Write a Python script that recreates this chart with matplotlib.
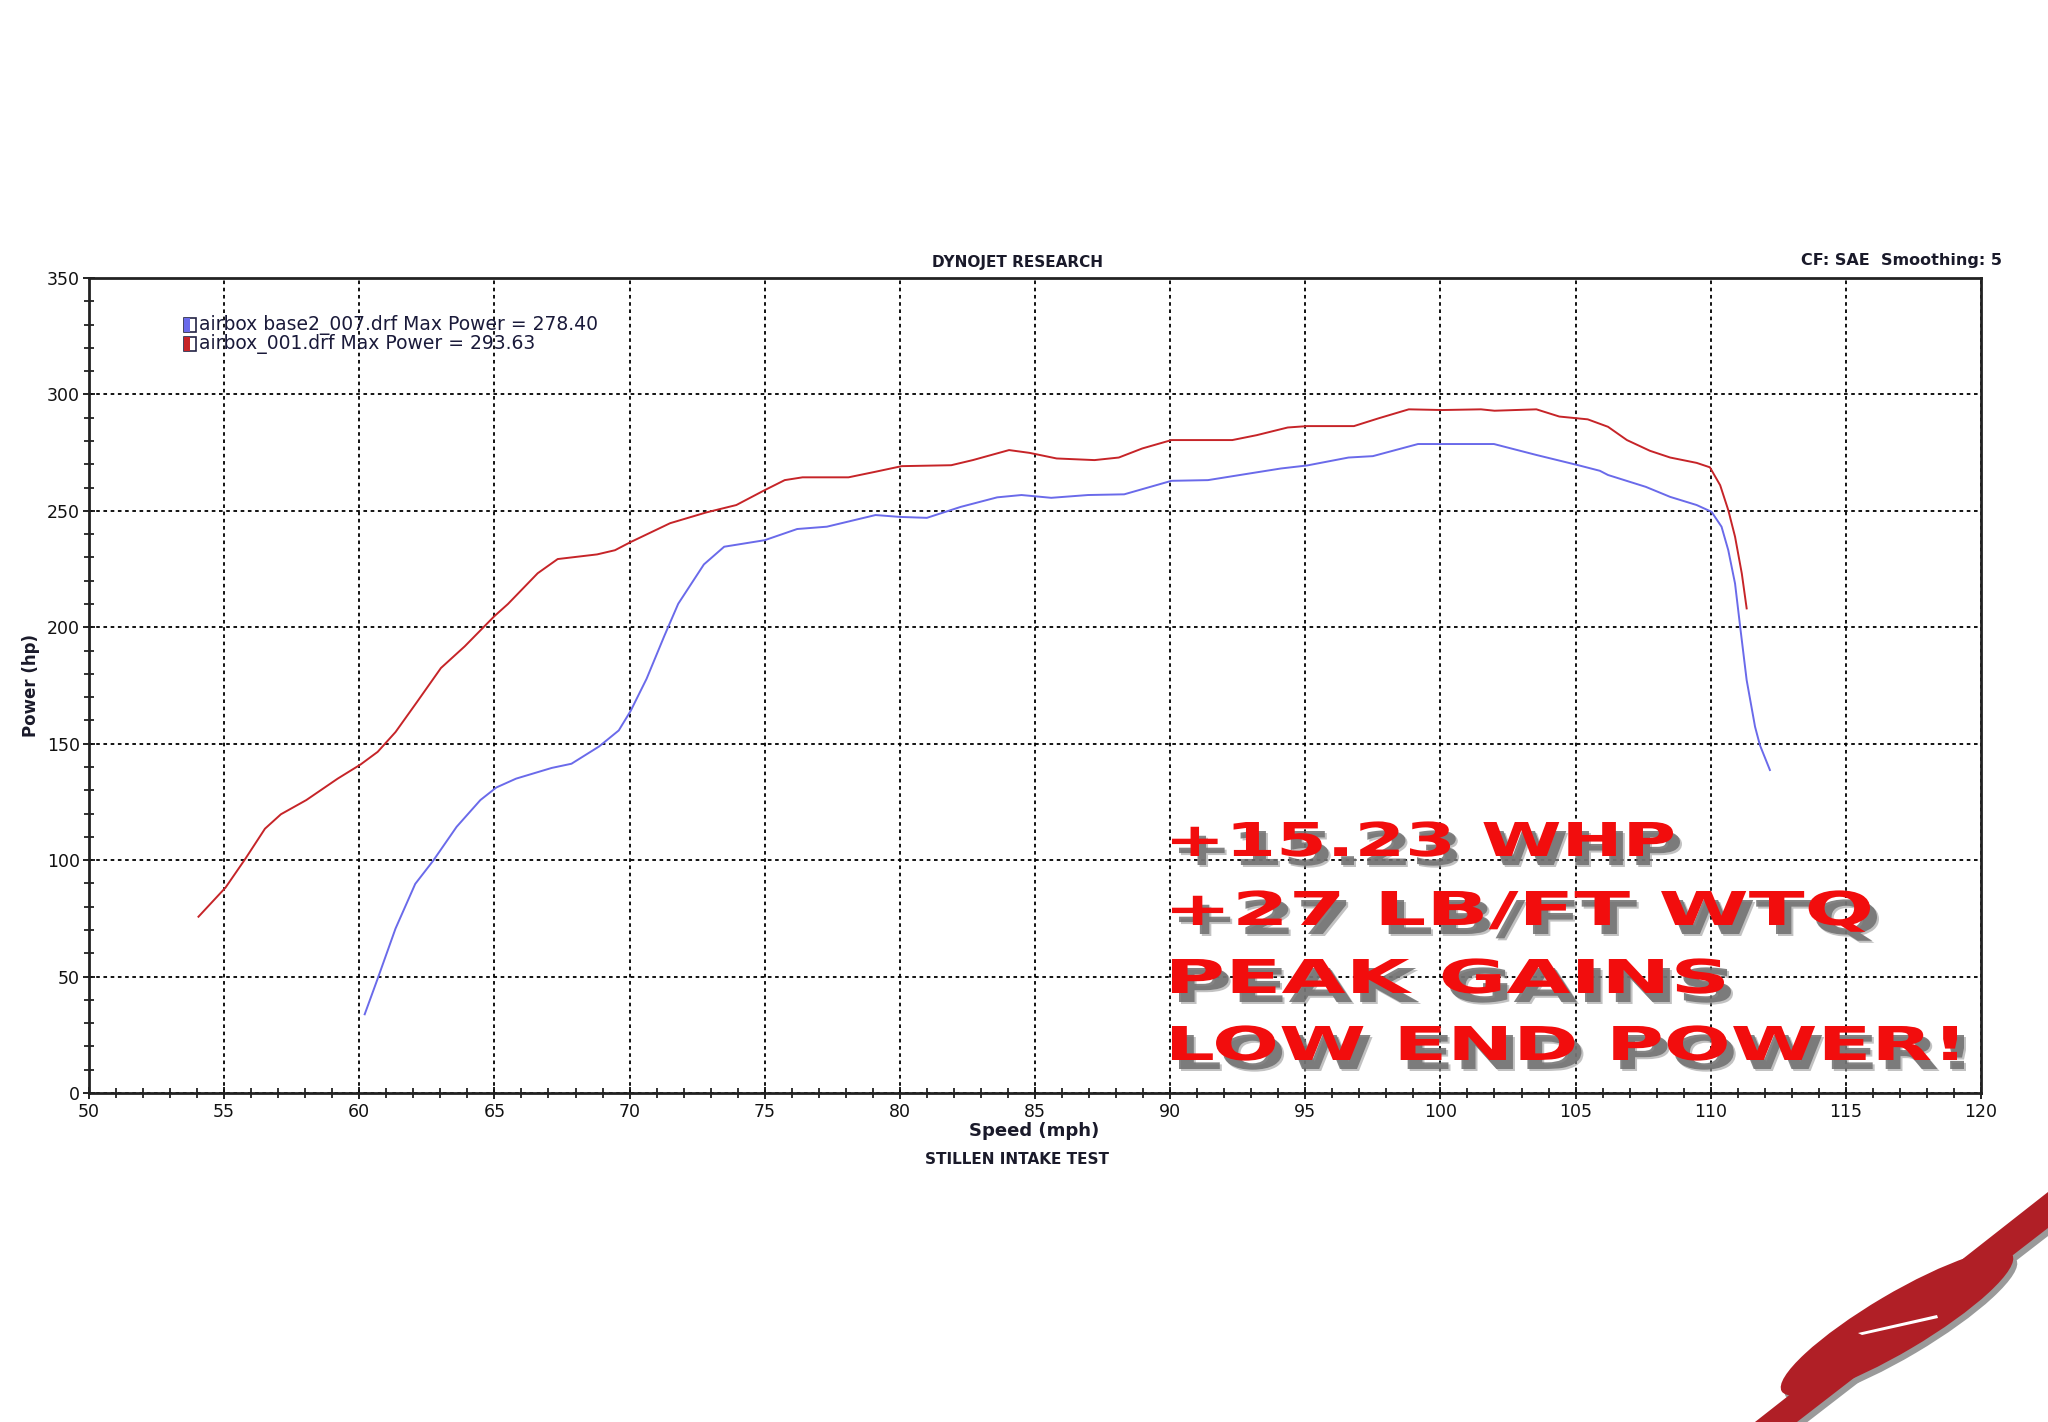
import numpy as np
import matplotlib

matplotlib.use("Agg")
import matplotlib.pyplot as plt
import matplotlib.transforms as mtransforms
from matplotlib.font_manager import FontProperties
from matplotlib.patches import Ellipse, PathPatch, Polygon, Rectangle
from matplotlib.textpath import TextPath
from matplotlib.ticker import MultipleLocator

# airbox base2_007.drf (stock airbox)
base_speed = [60.2, 60.68, 61.34, 62.07, 62.73, 63.6, 64.48, 65.07, 65.8, 67.12,
              67.85, 68.87, 69.6, 70.04, 70.63, 71.29, 71.8, 72.75, 73.5, 75.0,
              76.2, 77.3, 79.1, 80.0, 81.0, 82.25, 83.6, 84.5, 85.6, 86.96,
              88.3, 90.05, 91.4, 92.8, 94.1, 95.07, 96.6, 97.5, 99.17, 101.98,
              103.55, 105.1, 105.9, 106.2, 107.6, 108.5, 109.48, 110.03, 110.4, 110.65,
              110.9, 111.09, 111.33, 111.64, 111.82, 112.19]
base_power = [33.8, 49.1, 70.6, 89.8, 99.7, 114.3, 125.8, 131.2, 135.0, 139.6,
              141.4, 148.8, 155.7, 164.1, 177.9, 196.4, 210.1, 227.0, 234.6, 237.4,
              242.2, 243.2, 248.2, 247.4, 247.0, 251.7, 255.8, 256.8, 255.6, 256.8,
              257.1, 262.9, 263.2, 265.8, 268.2, 269.5, 272.9, 273.5, 278.7, 278.7,
              274.0, 269.6, 267.2, 265.4, 260.3, 256.0, 252.5, 249.6, 243.2, 233.1,
              218.8, 200.2, 177.3, 157.3, 149.4, 138.7]

# airbox_001.drf (Stillen intake)
intake_speed = [54.05, 55.05, 55.78, 56.51, 57.1, 58.04, 59.2, 60.05, 60.68, 61.34,
                62.14, 63.02, 63.9, 65.0, 65.5, 66.6, 67.34, 68.8, 69.46, 70.04,
                71.5, 72.83, 73.95, 75.0, 75.74, 76.4, 78.1, 79.1, 80.07, 81.9,
                82.7, 84.04, 84.8, 85.8, 87.2, 88.1, 88.97, 90.05, 92.3, 93.2,
                94.35, 95.07, 96.8, 97.7, 98.83, 100.07, 101.5, 102.0, 103.55, 104.4,
                105.45, 106.2, 106.9, 107.75, 108.5, 109.48, 109.97, 110.35, 110.65, 110.9,
                111.15, 111.33]
intake_power = [75.7, 88.2, 100.5, 113.5, 119.7, 125.8, 135.0, 141.1, 146.5, 155.0,
                168.0, 182.5, 191.8, 204.8, 210.0, 223.2, 229.3, 231.3, 233.1, 236.6,
                244.7, 249.3, 252.5, 258.9, 263.2, 264.4, 264.4, 266.8, 269.2, 269.6,
                271.8, 276.1, 274.9, 272.5, 271.8, 272.9, 276.8, 280.4, 280.4, 282.5,
                285.8, 286.4, 286.4, 289.7, 293.6, 293.3, 293.6, 293.0, 293.6, 290.5,
                289.3, 286.1, 280.4, 275.8, 272.9, 270.6, 268.7, 261.0, 250.3, 238.9,
                223.1, 208.1]

run_names = ["airbox base2_007.drf", "airbox_001.drf"]
run_max_power = [278.40, 293.63]
run_colors = ["#6a6aea", "#c62428"]

overlay_lines = ["+15.23 WHP", "+27 LB/FT WTQ", "PEAK GAINS", "LOW END POWER!"]

W, H = 2048, 1422
fig = plt.figure(figsize=(W / 100, H / 100), dpi=100)
fig.patch.set_facecolor("white")

# pixel coords (origin top-left) -> figure
pix = mtransforms.Affine2D().scale(1 / W, -1 / H).translate(0, 1) + fig.transFigure


def px(x, y):
    return x / W, 1 - y / H


ax = fig.add_axes([89 / W, 1 - 1093 / H, (1981 - 89) / W, (1093 - 278) / H])
ax.plot(base_speed, base_power, color=run_colors[0], lw=1.4, zorder=3)
ax.plot(intake_speed, intake_power, color=run_colors[1], lw=1.4, zorder=3)

ax.set_xlim(50, 120)
ax.set_ylim(0, 350)
ax.xaxis.set_major_locator(MultipleLocator(5))
ax.xaxis.set_minor_locator(MultipleLocator(1))
ax.yaxis.set_major_locator(MultipleLocator(50))
ax.yaxis.set_minor_locator(MultipleLocator(10))
ax.grid(True, which="major", color="black", linestyle=(0, (2, 2)), lw=1.3)
ax.tick_params(which="both", direction="inout", top=False, right=False,
               labelsize=12.5, colors="#111111")
ax.tick_params(which="major", length=9, width=1.3)
ax.tick_params(which="minor", length=7, width=1.2)
ax.tick_params(axis="y", pad=2)
ax.tick_params(axis="x", pad=3)
for spine in ax.spines.values():
    spine.set_linewidth(2)
    spine.set_color("#222222")

fig.text(*px(1017, 263), "DYNOJET RESEARCH", ha="center", va="center",
         fontsize=11, fontweight="bold", color="#1a1a2a")
fig.text(*px(2002, 260), "CF: SAE  Smoothing: 5", ha="right", va="center",
         fontsize=11.5, fontweight="bold", color="#1a1a2a")
fig.text(*px(1034, 1131), "Speed (mph)", ha="center", va="center",
         fontsize=13, fontweight="bold", color="#1a1a2a")
fig.text(*px(1017, 1160), "STILLEN INTAKE TEST", ha="center", va="center",
         fontsize=11, fontweight="bold", color="#1a1a2a")
fig.text(*px(31, 686), "Power (hp)", ha="center", va="center", rotation=90,
         fontsize=12, fontweight="bold", color="#1a1a2a")

# legend: half coloured boxes
for i, (name, peak, color) in enumerate(zip(run_names, run_max_power, run_colors)):
    y = 318 + i * 19
    fig.add_artist(Rectangle((184, y), 12, 14, transform=pix, fc="white",
                             ec="#222244", lw=1.2))
    fig.add_artist(Rectangle((184, y), 6, 14, transform=pix, fc=color, ec="none"))
    fig.text(*px(199, y + 7), f"{name} Max Power = {peak:.2f}", ha="left",
             va="center", fontsize=13.5, color="#1a1a3a")

# overlay caption, stretched into boxes
fp = FontProperties(family="DejaVu Sans", weight="bold")
cap_h = TextPath((0, 0), "H", size=100, prop=fp).get_extents().height
boxes = [(1172, 856, 1673), (1172, 925, 1870), (1172, 993, 1724), (1172, 1060, 1957)]
for text, (x0, y_base, x1) in zip(overlay_lines, boxes):
    tp = TextPath((0, 0), text, size=100, prop=fp)
    bb = tp.get_extents()
    sx = (x1 - x0) / bb.width
    sy = 34 / cap_h
    for dx, dy, col, alpha in [(9, 11, "#9a9a9a", 0.6), (7, 9, "#6f6f6f", 0.85),
                               (0, 0, "#f20d0d", 1.0)]:
        tr = (mtransforms.Affine2D().translate(-bb.x0, 0).scale(sx, -sy)
              .translate(x0 + dx, y_base + dy) + pix)
        fig.add_artist(PathPatch(tp, transform=tr, fc=col, ec="none", alpha=alpha,
                                 zorder=5))

# Stillen logo swoosh, bottom right
logo_red = "#b01f26"
for dx, dy, col in [(4, 5, "#9a9a9a"), (0, 0, logo_red)]:
    fig.add_artist(Polygon([(1755 + dx, 1422 + dy), (1797 + dx, 1422 + dy),
                            (2048 + dx, 1228 + dy), (2048 + dx, 1192 + dy)],
                           closed=True, transform=pix, fc=col, ec="none", zorder=4))
    fig.add_artist(Ellipse((1897 + dx, 1323 + dy), 268, 58, angle=-30.6,
                           transform=pix, fc=col, ec="none", zorder=4))
fig.add_artist(Polygon([(1858, 1333), (1937, 1315), (1938, 1318), (1862, 1335)],
                       closed=True, transform=pix, fc="white", ec="none", zorder=4))

fig.savefig("out.png", dpi=100)
